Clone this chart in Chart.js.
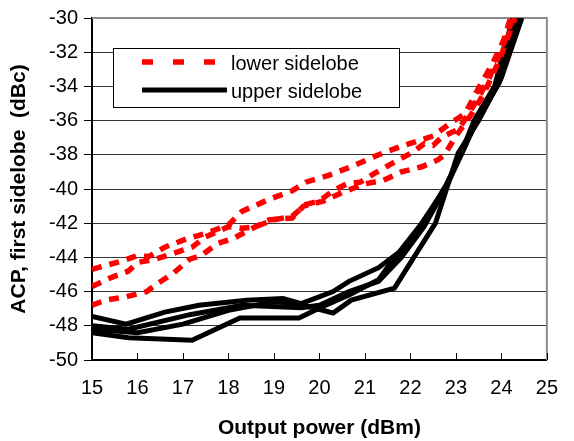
<!DOCTYPE html>
<html>
<head>
<meta charset="utf-8">
<script src="https://cdn.jsdelivr.net/npm/chart.js@4.4.1/dist/chart.umd.min.js"></script>
<style>
  html, body { margin: 0; padding: 0; background: #fff; }
  #wrap { width: 574px; height: 441px; }
</style>
</head>
<body>
<div id="wrap"><canvas id="acpChart" width="574" height="441"></canvas></div>
<script>
// --- DATA ---

const xTicks = [15, 16, 17, 18, 19, 20, 21, 22, 23, 24, 25];
const yTicks = [-50, -48, -46, -44, -42, -40, -38, -36, -34, -32, -30];

// lower sidelobe, three measurements (red dashed)
const lowerX1 = [15, 15.67, 16.0, 16.25, 16.6, 17.1, 17.5, 18.0, 18.3, 18.9, 19.4, 19.7, 20.2, 20.7, 21.3, 21.8, 22.5, 22.85, 23.2, 23.5, 23.8, 24.05, 24.2];
const lowerY1 = [-44.7, -44.2, -43.9, -43.95, -43.4, -42.9, -42.6, -42.1, -41.3, -40.6, -40.1, -39.6, -39.2, -38.7, -38.0, -37.5, -36.9, -36.2, -35.6, -34.1, -32.7, -31.3, -30];

const lowerX2 = [15, 15.4, 15.8, 16.0, 16.4, 16.75, 17.2, 17.5, 18.0, 18.3, 18.6, 19.0, 19.4, 19.7, 20.0, 20.3, 20.6, 20.9, 21.2, 21.6, 22.05, 22.3, 22.5, 22.7, 23.06, 23.35, 23.7, 24.0, 24.25];
const lowerY2 = [-45.7, -45.2, -44.8, -44.3, -44.1, -43.8, -43.4, -42.8, -42.2, -42.3, -42.2, -41.8, -41.6, -40.9, -40.7, -40.1, -39.7, -39.6, -39.1, -38.5, -37.85, -37.35, -37.45, -36.95, -36.5, -35.3, -33.7, -31.9, -30];

const lowerX3 = [15, 15.3, 15.75, 16.2, 16.4, 16.8, 17.15, 17.4, 17.75, 18.1, 18.45, 18.9, 19.4, 19.65, 20.1, 20.5, 21.0, 21.4, 21.8, 22.25, 22.6, 22.75, 23.0, 23.3, 23.6, 23.95, 24.3];
const lowerY3 = [-46.8, -46.5, -46.3, -46.0, -45.6, -44.9, -44.1, -43.9, -43.2, -42.9, -42.4, -41.8, -41.7, -41.0, -40.7, -40.2, -39.7, -39.5, -39.0, -38.7, -38.3, -38.0, -36.9, -35.8, -34.5, -32.5, -30];

// upper sidelobe, four measurements (black solid)
const upperX1 = [15, 15.75, 16.6, 17.35, 18.4, 19.2, 19.6, 20.3, 20.65, 21.3, 21.75, 22.25, 22.75, 23.1, 23.4, 23.85, 24.25];
const upperY1 = [-47.45, -47.9, -47.2, -46.8, -46.5, -46.4, -46.7, -46.0, -45.4, -44.6, -43.7, -42.0, -40.0, -38.0, -36.0, -34.0, -30];

const upperX2 = [15, 15.8, 17.15, 18.3, 19.6, 20.0, 20.65, 21.3, 21.8, 22.3, 22.8, 23.15, 23.45, 23.9, 24.35];
const upperY2 = [-48.0, -48.2, -47.35, -46.8, -46.95, -46.8, -46.0, -45.4, -44.0, -42.2, -39.8, -37.8, -36.0, -34.0, -30];

const upperX3 = [15, 16.0, 17.0, 18.0, 19.0, 19.5, 20.3, 20.7, 21.65, 22.55, 23.05, 23.5, 24.0, 24.45];
const upperY3 = [-48.2, -48.4, -47.9, -47.1, -46.6, -46.7, -47.25, -46.5, -45.8, -42.0, -37.9, -36.0, -33.5, -30];

const upperX4 = [15, 15.8, 17.2, 18.25, 19.55, 20.05, 20.65, 21.3, 21.6, 22.25, 22.8, 23.2, 23.5, 23.95, 24.4];
const upperY4 = [-48.4, -48.7, -48.85, -47.55, -47.55, -46.9, -46.2, -45.3, -44.2, -42.2, -39.7, -37.5, -35.8, -33.8, -30];

const legendLabels = ['lower sidelobe', 'upper sidelobe'];

// --- HELPERS ---

const FONT = '"Liberation Sans", Arial, Helvetica, sans-serif';

function toPoints(xs, ys) {
    return xs.map((x, i) => ({ x: x, y: ys[i] }));
}

function lowerSet(xs, ys) {
    return {
        label: legendLabels[0],
        data: toPoints(xs, ys),
        borderColor: '#ff0000',
        borderWidth: 5.5,
        borderDash: [10, 8],
        pointRadius: 0,
        showLine: true,
        tension: 0
    };
}

function upperSet(xs, ys) {
    return {
        label: legendLabels[1],
        data: toPoints(xs, ys),
        borderColor: '#000000',
        borderWidth: 5,
        pointRadius: 0,
        showLine: true,
        tension: 0
    };
}

// --- PLUGINS: frame, inward x ticks, boxed legend ---

const framePlugin = {
    id: 'frame',
    beforeDatasetsDraw(chart) {
        const { ctx, chartArea: a, scales } = chart;
        ctx.save();
        // gray top and right frame
        ctx.strokeStyle = '#8c8c8c';
        ctx.lineWidth = 2;
        ctx.beginPath();
        ctx.moveTo(a.left, a.top);
        ctx.lineTo(a.right, a.top);
        ctx.lineTo(a.right, a.bottom);
        ctx.stroke();
        // small x ticks pointing into the plot
        ctx.strokeStyle = '#000';
        ctx.lineWidth = 1;
        xTicks.forEach(v => {
            const px = Math.round(scales.x.getPixelForValue(v)) + 0.5;
            ctx.beginPath();
            ctx.moveTo(px, a.bottom);
            ctx.lineTo(px, a.bottom - 7);
            ctx.stroke();
        });
        ctx.restore();
    }
};

const boxLegendPlugin = {
    id: 'boxLegend',
    afterDatasetsDraw(chart) {
        const ctx = chart.ctx;
        const box = { left: 113, top: 48, right: 399, bottom: 107 };
        ctx.save();
        ctx.fillStyle = '#fff';
        ctx.fillRect(box.left, box.top, box.right - box.left, box.bottom - box.top);
        ctx.strokeStyle = '#000';
        ctx.lineWidth = 1;
        ctx.strokeRect(box.left + 0.5, box.top + 0.5, box.right - box.left, box.bottom - box.top);

        // red dashed sample
        ctx.strokeStyle = '#ff0000';
        ctx.lineWidth = 5.5;
        ctx.setLineDash([11, 20]);
        ctx.beginPath();
        ctx.moveTo(142, 62);
        ctx.lineTo(216, 62);
        ctx.stroke();

        // black sample
        ctx.setLineDash([]);
        ctx.strokeStyle = '#000';
        ctx.lineWidth = 5;
        ctx.beginPath();
        ctx.moveTo(142, 90);
        ctx.lineTo(227, 90);
        ctx.stroke();

        ctx.fillStyle = '#000';
        ctx.font = '20px ' + FONT;
        ctx.textBaseline = 'middle';
        ctx.fillText(legendLabels[0], 231, 64);
        ctx.fillText(legendLabels[1], 231, 92);
        ctx.restore();
    }
};

// --- CHART ---

new Chart(document.getElementById('acpChart'), {
    type: 'scatter',
    data: {
        datasets: [
            lowerSet(lowerX1, lowerY1),
            lowerSet(lowerX2, lowerY2),
            lowerSet(lowerX3, lowerY3),
            upperSet(upperX1, upperY1),
            upperSet(upperX2, upperY2),
            upperSet(upperX3, upperY3),
            upperSet(upperX4, upperY4)
        ]
    },
    options: {
        responsive: false,
        animation: false,
        layout: { padding: { top: 17, right: 13, left: 0, bottom: 0 } },
        plugins: {
            legend: { display: false },
            tooltip: { enabled: false }
        },
        scales: {
            x: {
                type: 'linear',
                min: 15,
                max: 25,
                afterBuildTicks: s => { s.ticks = xTicks.map(v => ({ value: v })); },
                afterFit: s => { s.height = 81; },
                ticks: { color: '#000', font: { family: FONT, size: 20 }, padding: 16 },
                grid: { drawOnChartArea: false, drawTicks: false },
                border: { color: '#000', width: 2 },
                title: {
                    display: true,
                    text: 'Output power (dBm)',
                    color: '#000',
                    font: { family: FONT, size: 21, weight: 'bold' },
                    padding: { top: 0, bottom: 0 }
                }
            },
            y: {
                min: -50,
                max: -30,
                afterBuildTicks: s => { s.ticks = yTicks.map(v => ({ value: v })); },
                afterFit: s => { s.width = 92; },
                ticks: { color: '#000', font: { family: FONT, size: 20 }, padding: 6 },
                grid: { color: '#333', lineWidth: 1, tickColor: '#000', tickLength: 8 },
                border: { color: '#000', width: 2 },
                title: {
                    display: true,
                    text: 'ACP, first sidelobe  (dBc)',
                    color: '#000',
                    font: { family: FONT, size: 21, weight: 'bold' },
                    padding: { top: 7, bottom: 0 }
                }
            }
        }
    },
    plugins: [framePlugin, boxLegendPlugin]
});
</script>
</body>
</html>
